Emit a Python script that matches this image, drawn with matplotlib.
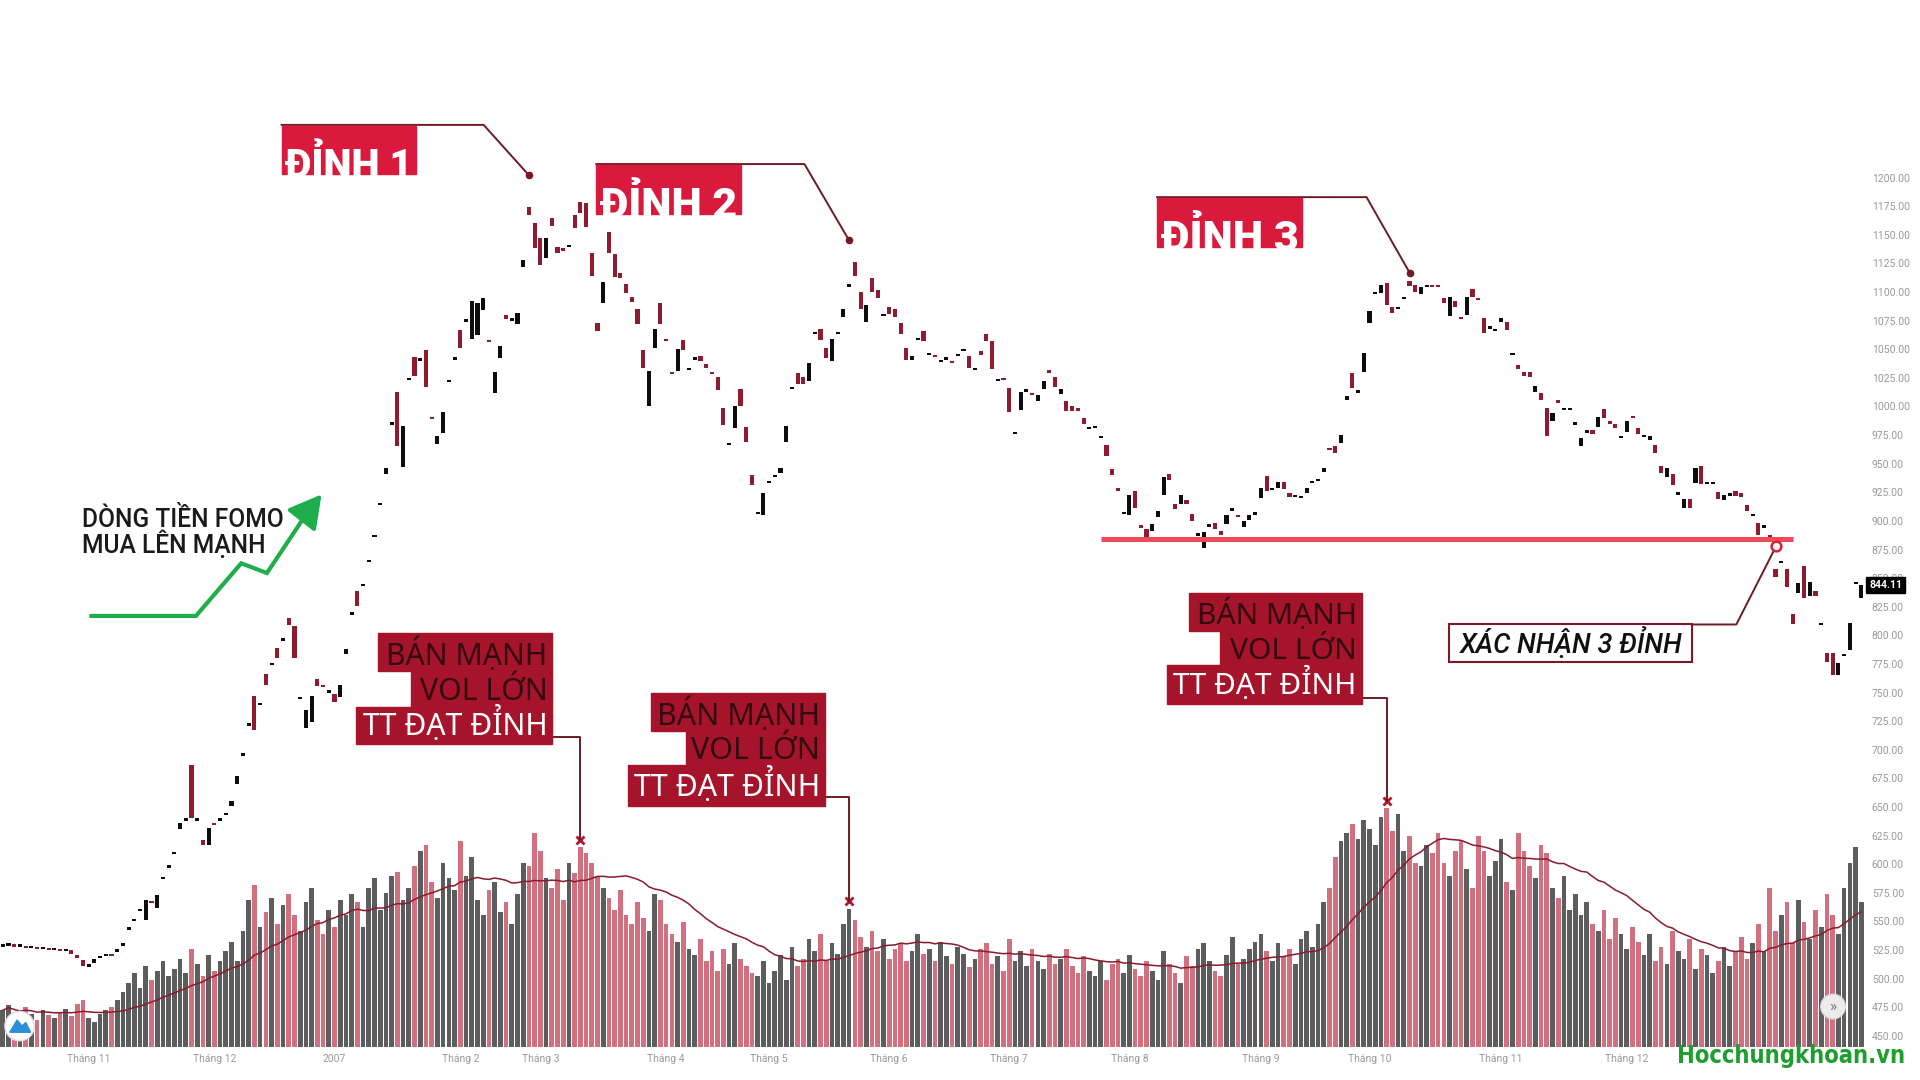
import numpy as np
import pandas as pd
import matplotlib
matplotlib.use('Agg')
import matplotlib.pyplot as plt
from matplotlib.patches import Rectangle, Polygon, Circle

plt.rcParams['font.family'] = ['Roboto', 'DejaVu Sans']

# VN-Index, daily candles from mid Oct 2006 to Jan 2008
open_prices = [
    528, 529, 530, 528, 529, 527, 528, 526, 527, 525,
    526, 524, 525, 521, 516, 510, 514, 518, 520, 522,
    523, 529, 543, 550, 559, 551, 568, 562, 587, 597,
    609, 631, 638, 687, 638, 621, 617, 636, 638, 643,
    651, 670, 695, 721, 747, 739, 766, 774, 789, 795,
    815, 808, 744, 719, 724, 762, 757, 750, 749, 746,
    784, 818, 839, 843, 864, 886, 914, 941, 984, 1013,
    947, 1023, 1043, 1040, 1049, 991, 967, 977, 1021, 1041,
    1067, 1074, 1059, 1062, 1084, 1058, 1012, 1042, 1080, 1075,
    1072, 1122, 1174, 1160, 1147, 1130, 1165, 1139, 1138, 1139,
    1167, 1179, 1178, 1134, 1073, 1090, 1152, 1133, 1117, 1107,
    1096, 1085, 1049, 1000, 1051, 1090, 1059, 1030, 1031, 1058,
    1032, 1041, 1044, 1037, 1030, 1026, 999, 966, 981, 1015,
    982, 940, 906, 905, 933, 938, 942, 969, 1015, 1029,
    1026, 1022, 1063, 1068, 1051, 1040, 1063, 1078, 1104, 1126,
    1100, 1074, 1112, 1102, 1079, 1087, 1085, 1073, 1051, 1041,
    1058, 1066, 1045, 1044, 1039, 1041, 1040, 1044, 1048, 1044,
    1032, 1048, 1063, 1057, 1022, 1024, 1016, 976, 997, 1013,
    1011, 1005, 1015, 1032, 1026, 1011, 1005, 1000, 999, 990,
    980, 981, 972, 966, 945, 929, 906, 905, 926, 896,
    893, 891, 903, 923, 941, 915, 915, 918, 906, 887,
    876, 895, 898, 891, 897, 909, 905, 895, 901, 905,
    920, 939, 927, 929, 934, 924, 921, 920, 924, 933,
    935, 943, 964, 965, 968, 1006, 1029, 1012, 1030, 1073,
    1098, 1099, 1108, 1087, 1085, 1094, 1110, 1106, 1098, 1104,
    1105, 1106, 1095, 1079, 1092, 1078, 1080, 1103, 1095, 1077,
    1068, 1066, 1074, 1074, 1045, 1036, 1030, 1030, 1013, 1012,
    999, 987, 1006, 997, 997, 984, 965, 977, 979, 982,
    998, 987, 985, 972, 978, 992, 981, 973, 971, 966,
    948, 938, 941, 923, 911, 919, 933, 948, 932, 932,
    925, 918, 922, 926, 924, 914, 904, 898, 894, 888,
    858, 863, 858, 819, 837, 861, 834, 839, 809, 785,
    785, 765, 782, 787, 845, 833,
]

close_prices = [
    529, 530, 528, 529, 527, 528, 526, 527, 525, 526,
    524, 525, 522, 518, 511, 513, 517, 519, 521, 520,
    526, 531, 545, 552, 561, 569, 566, 573, 588, 598,
    610, 636, 639, 640, 639, 617, 632, 634, 639, 644,
    655, 677, 696, 722, 717, 740, 757, 775, 780, 798,
    809, 780, 745, 735, 747, 756, 755, 751, 742, 757,
    788, 819, 826, 844, 865, 887, 915, 946, 985, 965,
    983, 1024, 1027, 1041, 1017, 989, 974, 995, 1022, 1042,
    1051, 1075, 1092, 1090, 1095, 1056, 1030, 1053, 1076, 1076,
    1082, 1128, 1167, 1138, 1124, 1147, 1158, 1134, 1136, 1140,
    1156, 1169, 1157, 1114, 1066, 1109, 1134, 1113, 1112, 1099,
    1091, 1072, 1034, 1031, 1068, 1072, 1057, 1028, 1050, 1049,
    1033, 1042, 1040, 1034, 1028, 1014, 984, 967, 1000, 1000,
    969, 931, 907, 924, 934, 939, 946, 983, 1016, 1020,
    1020, 1038, 1064, 1058, 1042, 1059, 1064, 1085, 1107, 1114,
    1085, 1089, 1100, 1095, 1080, 1081, 1078, 1063, 1041, 1044,
    1060, 1057, 1046, 1043, 1040, 1042, 1038, 1045, 1049, 1034,
    1033, 1045, 1057, 1033, 1023, 1023, 995, 977, 1013, 1014,
    1010, 1010, 1022, 1029, 1017, 1015, 996, 996, 996, 985,
    981, 982, 973, 957, 940, 926, 907, 923, 911, 894,
    885, 897, 909, 938, 936, 910, 923, 915, 900, 888,
    890, 896, 893, 888, 905, 910, 903, 900, 905, 908,
    929, 926, 928, 934, 928, 921, 922, 921, 929, 934,
    936, 946, 962, 959, 975, 1009, 1016, 1013, 1047, 1083,
    1099, 1106, 1089, 1082, 1086, 1096, 1105, 1100, 1104, 1105,
    1104, 1104, 1090, 1096, 1087, 1076, 1096, 1096, 1093, 1064,
    1069, 1067, 1077, 1067, 1046, 1033, 1027, 1026, 1018, 1006,
    974, 994, 1003, 998, 998, 985, 972, 978, 976, 991,
    990, 985, 981, 973, 987, 990, 976, 974, 974, 959,
    942, 946, 931, 924, 919, 911, 946, 932, 934, 933,
    919, 923, 923, 922, 921, 909, 905, 888, 895, 885,
    851, 864, 842, 810, 846, 833, 847, 834, 810, 777,
    765, 776, 784, 811, 846, 844.11,
]

volume = [
    30, 34, 28, 25, 33, 27, 22, 30, 26, 24,
    28, 31, 25, 35, 38, 24, 20, 27, 30, 33,
    38, 45, 52, 60, 48, 66, 55, 62, 70, 58,
    64, 72, 60, 80, 68, 58, 75, 62, 70, 78,
    86, 70, 95, 120, 132, 98, 110, 122, 100, 116,
    125, 108, 95, 118, 130, 104, 92, 112, 98, 120,
    108, 125, 118, 98, 130, 138, 112, 126, 140, 143,
    120, 130, 148, 160, 165, 135, 122, 150, 138, 128,
    168, 140, 155, 120, 108, 128, 135, 110, 118, 100,
    125, 150, 148, 175, 160, 138, 130, 145, 120, 150,
    142, 163, 158, 150, 140, 130, 122, 112, 128, 108,
    100, 118, 105, 95, 125, 120, 100, 92, 86, 102,
    80, 75, 88, 70, 78, 62, 80, 68, 85, 72,
    66, 60, 58, 70, 52, 62, 75, 55, 82, 66,
    72, 88, 78, 92, 70, 85, 76, 100, 113, 104,
    90, 82, 95, 78, 88, 72, 80, 85, 70, 78,
    92, 76, 80, 70, 86, 74, 68, 82, 76, 65,
    72, 80, 85, 68, 74, 62, 88, 70, 78, 66,
    80, 70, 64, 76, 68, 72, 80, 66, 60, 74,
    62, 58, 70, 55, 68, 72, 60, 75, 64, 58,
    70, 62, 55, 78, 68, 60, 52, 74, 66, 80,
    85, 70, 62, 58, 75, 90, 68, 72, 80, 86,
    92, 78, 70, 85, 74, 80, 68, 88, 95, 82,
    100, 118, 130, 155, 168, 175, 182, 170, 185, 178,
    165, 188, 195, 176, 190, 160, 172, 150, 148, 165,
    158, 175, 150, 140, 160, 168, 145, 130, 172, 160,
    140, 152, 170, 135, 128, 175, 160, 148, 138, 165,
    158, 130, 122, 140, 112, 125, 108, 118, 100, 95,
    112, 88, 105, 92, 80, 98, 86, 75, 92, 70,
    82, 68, 95, 78, 72, 88, 64, 80, 75, 60,
    70, 82, 66, 78, 90, 72, 85, 100, 78, 130,
    95, 108, 118, 85, 120, 102, 88, 112, 98, 125,
    108, 92, 130, 150, 163, 118,
]

month_idx = [15, 37, 58, 80, 94, 116, 134, 155, 176, 197, 220, 239, 262, 284]
month_labels = ['Tháng 11', 'Tháng 12', '2007', 'Tháng 2', 'Tháng 3', 'Tháng 4',
                'Tháng 5', 'Tháng 6', 'Tháng 7', 'Tháng 8', 'Tháng 9', 'Tháng 10',
                'Tháng 11', 'Tháng 12']

peak_names = ['ĐỈNH 1', 'ĐỈNH 2', 'ĐỈNH 3']
peak_idx = [92, 148, 246]
peak_high = [1202, 1145, 1117]

vol_peak_idx = [101, 148, 242]

support_level = 884
support_from = 192
support_to = 313
break_idx = 310
break_price = 878

UP = '#0d0d0d'
DOWN = '#8e1b2e'
VOL_UP = '#5d5d5d'
VOL_DOWN = '#d2707f'
CRIMSON = '#d91a3c'
DARKRED = '#a5142b'
LINE = '#6d1a24'
ROBOTO = ['Roboto', 'DejaVu Sans']
NOTO = ['Noto Sans', 'DejaVu Sans']
SCALE = 1920 / 1568


def to_layout(ax, ov, x, y):
    disp = ax.transData.transform((x, y))
    return ov.transData.inverted().transform(disp)


def fit(fig, t, width):
    r = fig.canvas.get_renderer()
    w = t.get_window_extent(r).width / SCALE
    t.set_fontsize(t.get_fontsize() * width / w)


def draw():
    o = np.array(open_prices, dtype=float)
    c = np.array(close_prices, dtype=float)
    v = np.array(volume, dtype=float)
    x = np.arange(len(c))
    up = c >= o

    fig = plt.figure(figsize=(19.2, 10.8), dpi=100)
    fig.patch.set_facecolor('white')
    rect = [0, 1 - 855 / 882, 1523 / 1568, 855 / 882]

    axv = fig.add_axes(rect)
    ax = fig.add_axes(rect, sharex=axv)
    ax.patch.set_alpha(0)

    # volume
    axv.bar(x, v, width=0.82, color=np.where(up, VOL_UP, VOL_DOWN), zorder=1)
    ma = pd.Series(v).rolling(20, min_periods=1).mean()
    axv.plot(x, ma, color='#8b1a2b', lw=1.1, zorder=2)
    axv.plot(vol_peak_idx, v[vol_peak_idx] + 6, 'x', color='#b0182f', ms=6, mew=2, zorder=3)
    axv.set_ylim(0, 855)
    axv.set_xlim(-0.4925, 325.63)
    axv.set_yticks([])
    axv.set_xticks(month_idx)
    axv.set_xticklabels(month_labels)
    axv.tick_params(axis='x', length=0, pad=5, labelsize=7.5, labelcolor='#9a9a9a')
    for s in axv.spines.values():
        s.set_visible(False)

    # candles
    low = np.minimum(o, c)
    h = np.maximum(np.abs(c - o), 2.0)
    ax.bar(x, h, bottom=low, width=0.72, color=np.where(up, UP, DOWN), zorder=3)
    ax.set_ylim(440.4, 1355.1)
    ax.yaxis.tick_right()
    ax.set_yticks(np.arange(450, 1201, 25))
    ax.set_yticklabels(['%.2f' % t for t in np.arange(450, 1201, 25)])
    ax.tick_params(axis='y', length=0, pad=5, labelsize=7.5, labelcolor='#999999')
    ax.tick_params(axis='x', length=0, labelbottom=False)
    for s in ax.spines.values():
        s.set_visible(False)

    ax.hlines(support_level, support_from, support_to, color='#f04a56', lw=3.6, zorder=4)
    ax.plot(break_idx, break_price, 'o', mfc='white', mec='#d8213a', ms=7, mew=1.8, zorder=6)
    ax.plot(peak_idx, peak_high, 'o', color='#7a1a26', ms=4.5, zorder=6)

    ax.annotate('%.2f' % c[-1], xy=(1.0, c[-1]), xycoords=('axes fraction', 'data'),
                xytext=(3, 0), textcoords='offset points', va='center', ha='left',
                fontsize=7.5, color='white', fontweight='bold',
                bbox=dict(boxstyle='square,pad=0.3', fc='black', ec='black'), zorder=10,
                annotation_clip=False)

    # overlay for annotations, 1568x882 layout grid
    ov = fig.add_axes([0, 0, 1, 1])
    ov.set_zorder(10)
    ov.patch.set_alpha(0)
    ov.set_xlim(0, 1568)
    ov.set_ylim(882, 0)
    ov.axis('off')

    peak_boxes = [(230, 103, 340, 142, 395), (487, 135, 605, 175, 657), (945, 162, 1063, 202, 1116)]
    for name, (x0, y0, x1, y1, ex), pi, ph in zip(peak_names, peak_boxes, peak_idx, peak_high):
        r = Rectangle((x0, y0), x1 - x0, y1 - y0, color=CRIMSON, zorder=2)
        ov.add_patch(r)
        t = ov.text(x0 + 3, y1 + 3, name, color='white', fontsize=28, fontweight='black',
                    family=ROBOTO, va='baseline', ha='left', zorder=3)
        fit(fig, t, x1 - x0 - 6)
        t.set_clip_path(r)
        px, py = to_layout(ax, ov, pi, ph)
        ov.plot([x0, ex, px], [y0 - 1, y0 - 1, py], color=LINE, lw=1.4, zorder=1)

    sell_boxes = [
        [(309, 517), (336, 548), (291, 577), 451, 608, 602],
        [(532, 566), (560, 597), (513, 625), 674, 658, 651],
        [(971, 484), (996, 515), (953, 543), 1112, 575, 570],
    ]
    for (a1, t1), (a2, b1), (a3, b2), R, b3, ly in sell_boxes:
        poly = Polygon([(a1, t1), (R, t1), (R, b3), (a3, b3), (a3, b2), (a2, b2), (a2, b1), (a1, b1)],
                       closed=True, color=DARKRED, zorder=2)
        ov.add_patch(poly)
        t3 = ov.text(R - 4, b3 - 8, 'TT ĐẠT ĐỈNH', color='white', fontsize=21, family=NOTO,
                     ha='right', va='baseline', zorder=3)
        fit(fig, t3, R - a3 - 9)
        fs = t3.get_fontsize()
        ov.text(R - 4, b1 - 5, 'BÁN MẠNH', color='#330a10', fontsize=fs, family=NOTO,
                ha='right', va='baseline', zorder=3)
        ov.text(R - 4, b2 - 5, 'VOL LỚN', color='#330a10', fontsize=fs, family=NOTO,
                ha='right', va='baseline', zorder=3)
    for box, vi in zip(sell_boxes, vol_peak_idx):
        R, ly = box[3], box[5]
        mx, my = to_layout(axv, ov, vi, volume[vi] + 6)
        ov.plot([R, mx, mx], [ly, ly, my], color=LINE, lw=1.4, zorder=1)

    # confirmation box
    ov.add_patch(Rectangle((1183, 510), 199, 31, fc='white', ec='#7a1a26', lw=1.5, zorder=2))
    t = ov.text(1283, 533, 'XÁC NHẬN 3 ĐỈNH', color='#111111', fontsize=17, family=ROBOTO,
                fontstyle='italic', fontweight='medium', ha='center', va='baseline', zorder=3)
    fit(fig, t, 182)
    bx, by = to_layout(ax, ov, break_idx, break_price)
    ov.plot([1382, 1418, bx - 2], [510, 510, by + 5], color=LINE, lw=1.4, zorder=1)

    # FOMO note
    t = ov.text(67, 430, 'DÒNG TIỀN FOMO', color='#1a1a1a', fontsize=16.5, family=ROBOTO,
                fontweight='medium', va='baseline')
    fit(fig, t, 165)
    ov.text(67, 452, 'MUA LÊN MẠNH', color='#1a1a1a', fontsize=t.get_fontsize(), family=ROBOTO,
            fontweight='medium', va='baseline')
    green = '#1fae4b'
    ov.plot([73, 160, 197, 218, 250], [503, 503, 460, 468, 420], color=green, lw=3,
            solid_joinstyle='miter', solid_capstyle='butt')
    ov.annotate('', xy=(264, 402), xytext=(246, 425),
                arrowprops=dict(arrowstyle='-|>,head_length=0.9,head_width=0.5',
                                color=green, lw=3, mutation_scale=22))

    # watermark and small icons
    t = ov.text(1556, 868, 'Hocchungkhoan.vn', color='#1e9e2e', fontsize=22, fontweight='bold',
                family=['Liberation Sans Narrow', 'DejaVu Sans'], fontstretch='condensed',
                ha='right', va='baseline')
    fit(fig, t, 186)
    ov.add_patch(Circle((16, 838), 12, fc='white', ec='#dddddd', lw=1, zorder=3))
    ov.add_patch(Polygon([(8, 843), (14, 833), (18, 838), (21, 835), (25, 843)], closed=True,
                         color='#2a8fd6', zorder=4))
    ov.add_patch(Circle((1497, 822), 10, fc='#ececec', ec='#dddddd', lw=1, zorder=3))
    ov.text(1497, 822, '»', color='#777777', fontsize=11, ha='center', va='center', zorder=4)

    fig.savefig('out.png', dpi=100, facecolor='white')


if __name__ == '__main__':
    draw()
